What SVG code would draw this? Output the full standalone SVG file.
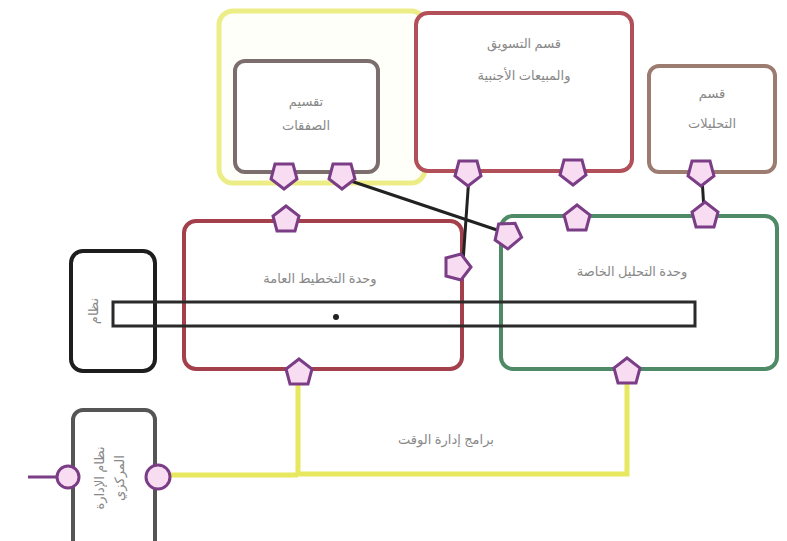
<svg xmlns="http://www.w3.org/2000/svg" width="787" height="541" viewBox="0 0 787 541">
<style>
.box{fill:#fff;stroke-width:4}
.t{font-family:"Noto Sans","DejaVu Sans",sans-serif;font-size:13px;fill:#888;text-anchor:middle}
.port{fill:#f8dcf2;stroke:#7a3d86;stroke-width:3}
.wire{fill:none;stroke:#222;stroke-width:3}
.ywire{fill:none;stroke:#e8e860;stroke-width:5}
</style>
<defs>
<path id="pent" d="M0,-13 L13,-3 L9,12 L-9,12 L-13,-3 Z"/>
</defs>
<rect width="787" height="541" fill="#fff"/>
<g id="group-yellow"><rect x="219" y="11" width="206" height="172" rx="14" fill="#fffffa" stroke="#eded88" stroke-width="5"/></g>
<g id="node-grey"><rect class="box" x="235" y="61" width="143" height="111" rx="10" stroke="#7d6e6e"/>
<text class="t" x="306" y="106">تقسيم</text><text class="t" x="306" y="130">الصفقات</text></g>
<g id="node-red-top"><rect class="box" x="416" y="13" width="216" height="158" rx="12" stroke="#b2505a"/>
<text class="t" x="524" y="48">قسم التسويق</text><text class="t" x="524" y="80">والمبيعات الأجنبية</text></g>
<g id="node-brown"><rect class="box" x="649" y="66" width="126" height="106" rx="10" stroke="#9c7c70"/>
<text class="t" x="712" y="98">قسم</text><text class="t" x="712" y="128">التحليلات</text></g>
<g id="node-red-mid"><rect class="box" x="184" y="221" width="278" height="148" rx="12" stroke="#a4404c"/>
<text class="t" x="320" y="283">وحدة التخطيط العامة</text></g>
<g id="node-green"><rect class="box" x="501" y="216" width="276" height="153" rx="12" stroke="#4f8a66"/>
<text class="t" x="632" y="276">وحدة التحليل الخاصة</text></g>
<g id="node-black"><rect class="box" x="71" y="251" width="84" height="120" rx="12" stroke="#1e1e1e"/>
<text class="t" transform="translate(98,311) rotate(-90)">نظام</text></g>
<g id="node-bottom"><rect class="box" x="73" y="410" width="82" height="140" rx="10" stroke="#555"/>
<text class="t" transform="translate(104,478) rotate(-90)">نظام الإدارة</text>
<text class="t" transform="translate(124,478) rotate(-90)">المركزي</text></g>
<g id="connectors">
<path d="M113,302 H695 V326 H113 Z" fill="none" stroke="#2a2a2a" stroke-width="3"/>
<circle cx="336" cy="317" r="3" fill="#222"/>
<line class="wire" x1="342" y1="178" x2="503" y2="232"/>
<line class="wire" x1="469" y1="176" x2="463" y2="262"/>
<line class="wire" x1="702" y1="178" x2="704" y2="210"/>
<path class="ywire" d="M298,378 V474 H627 V376"/>
<line class="ywire" x1="163" y1="475" x2="298" y2="475"/>
<line x1="28" y1="477" x2="60" y2="477" stroke="#7a3d86" stroke-width="3"/>
<text class="t" x="446" y="444">برامج إدارة الوقت</text>
</g>
<g id="ports">
<use href="#pent" class="port" transform="translate(284,176) rotate(180)"/>
<use href="#pent" class="port" transform="translate(342,176) rotate(180)"/>
<use href="#pent" class="port" transform="translate(468,173) rotate(180)"/>
<use href="#pent" class="port" transform="translate(573,172) rotate(180)"/>
<use href="#pent" class="port" transform="translate(701,173) rotate(180)"/>
<use href="#pent" class="port" transform="translate(286,219)"/>
<use href="#pent" class="port" transform="translate(458,267) rotate(90)"/>
<use href="#pent" class="port" transform="translate(299,372)"/>
<use href="#pent" class="port" transform="translate(507,234) rotate(-40)"/>
<use href="#pent" class="port" transform="translate(577,218)"/>
<use href="#pent" class="port" transform="translate(705,215)"/>
<use href="#pent" class="port" transform="translate(627,371)"/>
<circle class="port" cx="68" cy="477" r="11"/>
<circle class="port" cx="158" cy="477" r="12"/>
</g>
</svg>
